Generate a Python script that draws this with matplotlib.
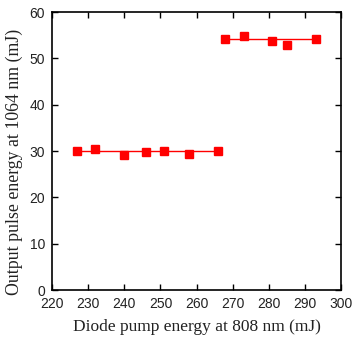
import numpy as np
import matplotlib
matplotlib.use('Agg')
import matplotlib.pyplot as plt

# data
pump_low = [227, 232, 240, 246, 251, 258, 266]
out_low = [30.0, 30.4, 29.2, 29.7, 30.0, 29.4, 30.0]
pump_high = [268, 273, 281, 285, 293]
out_high = [54.2, 54.8, 53.7, 53.0, 54.1]
fit_low = 30.0
fit_high = 54.1

xticks = np.arange(220, 301, 10)
yticks = np.arange(0, 61, 10)

fig = plt.figure(figsize=[3.52, 3.38], dpi=100)
ax = fig.add_axes([0.148, 0.142, 0.821, 0.822])

red = '#ff0000'
ax.plot([pump_low[0], pump_low[-1]], [fit_low, fit_low], color=red, lw=1.0)
ax.plot([pump_high[0], pump_high[-1]], [fit_high, fit_high], color=red, lw=1.0)
ax.plot(pump_low, out_low, 's', color=red, ms=5.2, mec=red)
ax.plot(pump_high, out_high, 's', color=red, ms=5.2, mec=red)

ax.set_xlim(220, 300)
ax.set_ylim(0, 60)
ax.set_xticks(xticks)
ax.set_yticks(yticks)
ax.tick_params(direction='in', top=True, right=True, length=4, width=1,
               labelsize=10, labelcolor='#222222')
ax.tick_params(axis='x', pad=5)
ax.tick_params(axis='y', pad=5)
for lab in ax.get_xticklabels() + ax.get_yticklabels():
    lab.set_fontfamily('Liberation Sans')
for s in ax.spines.values():
    s.set_linewidth(1.2)

ax.set_xlabel('Diode pump energy at 808 nm (mJ)', family='Liberation Serif',
              fontsize=12.5, color='#222222')
ax.set_ylabel('Output pulse energy at 1064 nm (mJ)', family='Liberation Serif',
              fontsize=12.8, color='#222222')
ax.xaxis.set_label_coords(0.5, -0.105)
ax.yaxis.set_label_coords(-0.102, 0.46)

fig.savefig('out.png', dpi=100)
